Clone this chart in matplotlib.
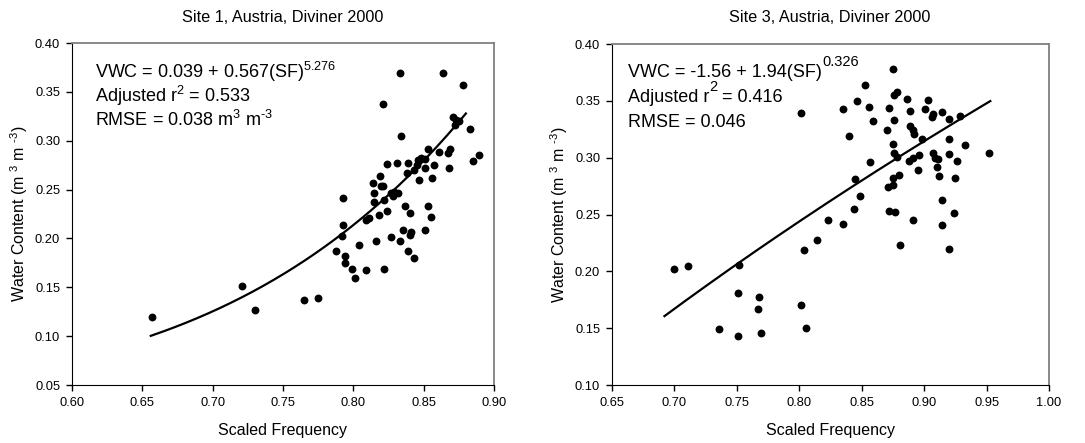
import matplotlib
matplotlib.use('Agg')
import matplotlib.pyplot as plt
import matplotlib.ticker as mticker
import numpy as np

plt.rcParams['font.family'] = ['Liberation Sans', 'DejaVu Sans']
plt.rcParams['mathtext.fontset'] = 'custom'
plt.rcParams['mathtext.rm'] = 'Liberation Sans'
plt.rcParams['mathtext.it'] = 'Liberation Sans'

# Site 1 data (scaled frequency, water content)
site1_sf = [0.657, 0.721, 0.730, 0.765, 0.775, 0.788, 0.793, 0.793, 0.792, 0.794,
            0.794, 0.799, 0.801, 0.804, 0.809, 0.809, 0.811, 0.816, 0.818, 0.815,
            0.815, 0.814, 0.819, 0.820, 0.821, 0.821, 0.824, 0.822, 0.822, 0.824,
            0.827, 0.828, 0.829, 0.832, 0.827, 0.831, 0.833, 0.833, 0.834, 0.835,
            0.837, 0.838, 0.839, 0.840, 0.839, 0.840, 0.841, 0.843, 0.843, 0.845,
            0.846, 0.847, 0.848, 0.851, 0.851, 0.853, 0.853, 0.851, 0.855, 0.856,
            0.857, 0.861, 0.864, 0.867, 0.869, 0.868, 0.871, 0.872, 0.875, 0.873,
            0.878, 0.883, 0.885, 0.889]
site1_vwc = [0.120, 0.151, 0.127, 0.137, 0.139, 0.187, 0.241, 0.214, 0.202, 0.182,
             0.175, 0.169, 0.159, 0.193, 0.168, 0.219, 0.221, 0.197, 0.224, 0.237,
             0.246, 0.257, 0.264, 0.254, 0.254, 0.338, 0.276, 0.239, 0.169, 0.228,
             0.246, 0.243, 0.248, 0.246, 0.201, 0.277, 0.369, 0.197, 0.305, 0.209,
             0.233, 0.267, 0.187, 0.226, 0.277, 0.203, 0.207, 0.180, 0.270, 0.275,
             0.280, 0.260, 0.282, 0.272, 0.281, 0.292, 0.233, 0.209, 0.222, 0.262,
             0.275, 0.288, 0.369, 0.287, 0.292, 0.272, 0.324, 0.316, 0.320, 0.321,
             0.357, 0.312, 0.279, 0.285]

# Site 3 data
site3_sf = [0.700, 0.711, 0.752, 0.751, 0.736, 0.751, 0.768, 0.767, 0.769, 0.801,
            0.805, 0.801, 0.804, 0.814, 0.823, 0.835, 0.835, 0.840, 0.846, 0.853,
            0.856, 0.859, 0.857, 0.845, 0.849, 0.844, 0.875, 0.876, 0.878, 0.872,
            0.876, 0.870, 0.875, 0.876, 0.878, 0.875, 0.880, 0.871, 0.875, 0.872,
            0.877, 0.881, 0.886, 0.889, 0.889, 0.891, 0.892, 0.898, 0.888, 0.891,
            0.896, 0.895, 0.891, 0.901, 0.903, 0.906, 0.907, 0.914, 0.920, 0.929,
            0.920, 0.933, 0.907, 0.909, 0.911, 0.910, 0.912, 0.920, 0.926, 0.925,
            0.914, 0.924, 0.914, 0.920, 0.952]
site3_vwc = [0.202, 0.205, 0.206, 0.181, 0.149, 0.143, 0.177, 0.167, 0.146, 0.170,
             0.150, 0.339, 0.219, 0.228, 0.245, 0.242, 0.343, 0.319, 0.350, 0.364,
             0.345, 0.332, 0.296, 0.281, 0.266, 0.255, 0.378, 0.355, 0.358, 0.344,
             0.333, 0.324, 0.312, 0.304, 0.301, 0.282, 0.285, 0.274, 0.276, 0.253,
             0.252, 0.223, 0.352, 0.341, 0.328, 0.324, 0.321, 0.316, 0.297, 0.300,
             0.302, 0.289, 0.245, 0.343, 0.351, 0.336, 0.338, 0.340, 0.334, 0.337,
             0.316, 0.311, 0.304, 0.300, 0.299, 0.292, 0.284, 0.303, 0.297, 0.282,
             0.263, 0.251, 0.241, 0.220, 0.304]

# fitted curves: VWC = a + b * SF^c, drawn over the range of the data
fit1 = (0.039, 0.567, 5.276)
fit1_range = (0.656, 0.880)
fit3 = (-1.56, 1.94, 0.326)
fit3_range = (0.692, 0.953)

W, H = 1085, 443
fig = plt.figure(figsize=(W / 100, H / 100), dpi=100)
ax1 = fig.add_axes([72 / W, 58 / H, 422 / W, 342 / H])
ax2 = fig.add_axes([612 / W, 58 / H, 437 / W, 341 / H])

for ax, sf, vwc, fit, rng in [(ax1, site1_sf, site1_vwc, fit1, fit1_range),
                             (ax2, site3_sf, site3_vwc, fit3, fit3_range)]:
    ax.scatter(sf, vwc, s=32, color='black', zorder=3, linewidths=0)
    xs = np.linspace(rng[0], rng[1], 200)
    a, b, c = fit
    ax.plot(xs, a + b * xs ** c, color='black', linewidth=1.6)
    ax.spines['top'].set_color('#808080')
    ax.spines['right'].set_color('#808080')
    ax.spines['top'].set_linewidth(1.3)
    ax.spines['right'].set_linewidth(1.3)
    ax.tick_params(direction='out', length=4, width=1, labelsize=9.3, pad=4.5)
    ax.set_xlabel('Scaled Frequency', fontsize=11.5, labelpad=10.5)
    ax.set_ylabel(r'Water Content (m $^{3}$ m $^{\text{-}3}$)', fontsize=11.5, labelpad=3.5)
    ax.xaxis.set_major_formatter(mticker.FormatStrFormatter('%.2f'))
    ax.yaxis.set_major_formatter(mticker.FormatStrFormatter('%.2f'))

ax1.set_xlim(0.60, 0.90)
ax1.set_ylim(0.05, 0.40)
ax1.set_xticks(np.arange(0.60, 0.901, 0.05))
ax1.set_yticks(np.arange(0.05, 0.401, 0.05))

ax2.set_xlim(0.65, 1.00)
ax2.set_ylim(0.10, 0.40)
ax2.set_xticks(np.arange(0.65, 1.001, 0.05))
ax2.set_yticks(np.arange(0.10, 0.401, 0.05))

fig.text(283 / W, 1 - 18 / H, 'Site 1, Austria, Diviner 2000', ha='center', va='center', fontsize=11.7)
fig.text(830 / W, 1 - 18 / H, 'Site 3, Austria, Diviner 2000', ha='center', va='center', fontsize=11.7)

fs = 13
x1 = 0.054
ax1.text(x1, 0.897, r'VWC = 0.039 + 0.567(SF)$^{5.276}$', transform=ax1.transAxes, fontsize=fs, va='baseline')
ax1.text(x1, 0.828, r'Adjusted r$^{2}$ = 0.533', transform=ax1.transAxes, fontsize=fs, va='baseline')
ax1.text(x1, 0.758, r'RMSE = 0.038 m$^{3}$ m$^{\text{-}3}$', transform=ax1.transAxes, fontsize=fs, va='baseline')

# right panel: larger superscripts, built from pieces
x3 = 0.036
y_l1, y_l2, y_l3 = 0.904, 0.831, 0.757
sup_fs, raise_pt = 10.5, 7.8
t1 = ax2.text(x3, y_l1, 'VWC = -1.56 + 1.94(SF)', transform=ax2.transAxes, fontsize=fs, va='baseline')
ax2.annotate('0.326', xy=(1, y_l1), xycoords=(t1, ax2.transAxes), xytext=(0.3, raise_pt),
             textcoords='offset points', fontsize=sup_fs, va='baseline')
t2 = ax2.text(x3, y_l2, 'Adjusted r', transform=ax2.transAxes, fontsize=fs, va='baseline')
s2 = ax2.annotate('2', xy=(1, y_l2), xycoords=(t2, ax2.transAxes), xytext=(0.1, raise_pt),
                  textcoords='offset points', fontsize=sup_fs, va='baseline')
ax2.annotate(' = 0.416', xy=(1, y_l2), xycoords=(s2, ax2.transAxes), xytext=(0, 0),
             textcoords='offset points', fontsize=fs, va='baseline')
ax2.text(x3, y_l3, 'RMSE = 0.046', transform=ax2.transAxes, fontsize=fs, va='baseline')

fig.savefig('out.png', dpi=100)
